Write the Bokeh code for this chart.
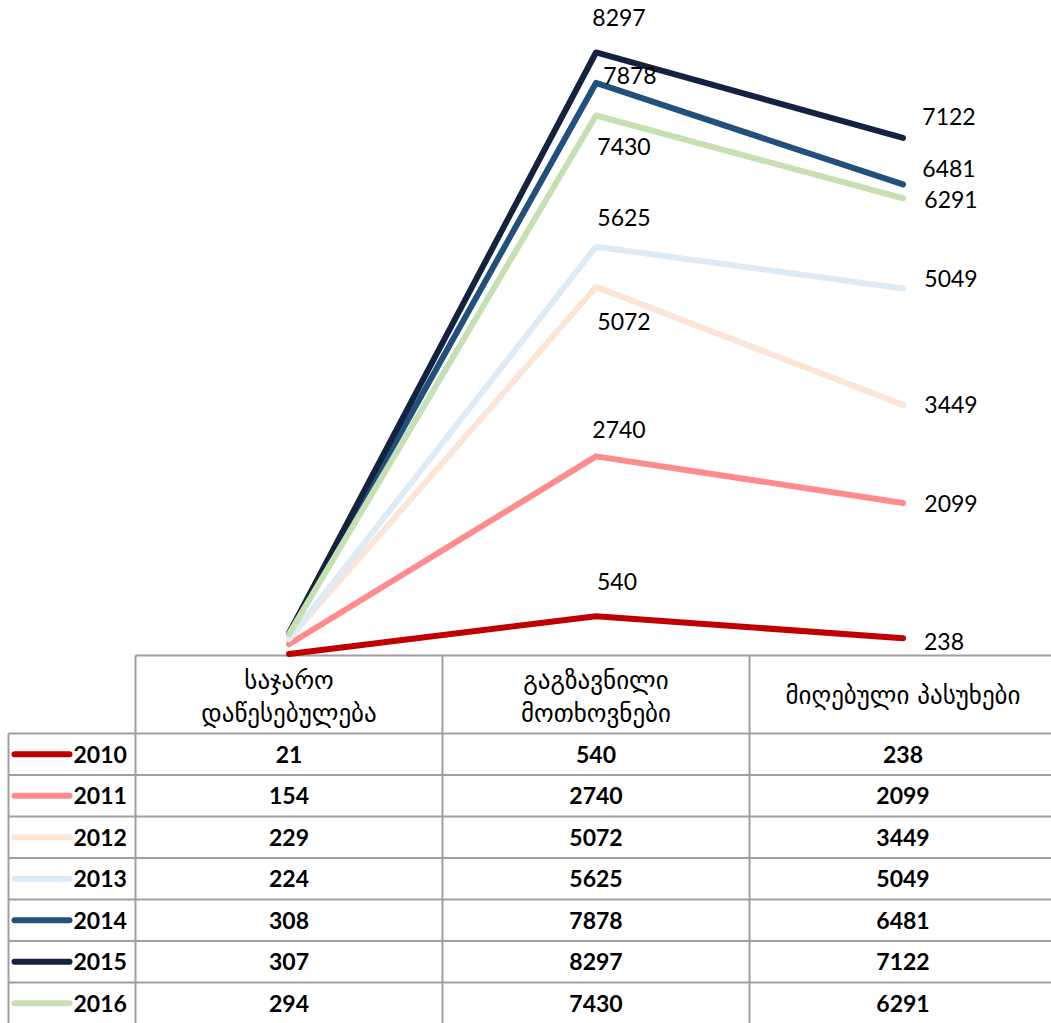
from bokeh.plotting import figure
from bokeh.models import Range1d
from bokeh.core.properties import value
from bokeh.embed import file_html
from bokeh.resources import INLINE

# ---------------- data ----------------
categories = ["საჯარო დაწესებულება", "გაგზავნილი მოთხოვნები", "მიღებული პასუხები"]
header_lines = [["საჯარო", "დაწესებულება"], ["გაგზავნილი", "მოთხოვნები"], ["მიღებული პასუხები"]]
years = ["2010", "2011", "2012", "2013", "2014", "2015", "2016"]
v2010 = [21, 540, 238]
v2011 = [154, 2740, 2099]
v2012 = [229, 5072, 3449]
v2013 = [224, 5625, 5049]
v2014 = [308, 7878, 6481]
v2015 = [307, 8297, 7122]
v2016 = [294, 7430, 6291]
series = [v2010, v2011, v2012, v2013, v2014, v2015, v2016]

# ---------------- styles ----------------
colors = ["#C00000", "#FF8C8C", "#FCE4D6", "#DDEBF7", "#22507C", "#13223F", "#C6E0B4"]
# label offsets (pixels) for the 2nd and 3rd category points
mid_off = [(21, -35), (23, -27), (28, 35), (28, -29), (34, -7), (23, -35), (28, 31)]
end_off = [(41, 3), (48, 1), (48, 0), (48, -10), (46, -16), (46, -21), (48, 1)]

W, H = 1051, 1023
LEFT = 8            # left border of the legend column
COL0 = 135          # left edge of first table column (canvas px)
COLW = 307          # column width
Y0 = 655            # canvas y of value 0 / top of table
PXU = 0.07268       # px per unit
HEAD_H = 78
ROW_H = 41.5
GRID = "#A0A0A0"
LBL_FONT = value("Lato")
GEO_FONT = value("DejaVu Sans")

p = figure(width=W, height=H, output_backend="svg", toolbar_location=None,
           x_range=Range1d(-COL0 / COLW, (W - COL0) / COLW),
           y_range=Range1d(-(H - Y0) / PXU, Y0 / PXU),
           x_axis_type=None, y_axis_type=None, min_border=0,
           outline_line_color=None, background_fill_color="white",
           border_fill_color="white")
p.extra_x_ranges = {"px": Range1d(0, W)}
p.extra_y_ranges = {"py": Range1d(H, 0)}
PX = dict(x_range_name="px", y_range_name="py")

# ---------------- table grid ----------------
row_tops = [Y0 + HEAD_H + k * ROW_H for k in range(len(years) + 1)]
hx0 = [COL0] + [LEFT] * len(row_tops)
hx1 = [W] * (len(row_tops) + 1)
hy = [Y0] + row_tops
p.segment(x0=hx0, x1=hx1, y0=hy, y1=hy, line_color=GRID, line_width=2, **PX)
vx = [LEFT] + [COL0 + k * COLW for k in range(len(categories))]
vy0 = [Y0 + HEAD_H] + [Y0] * len(categories)
p.segment(x0=vx, x1=vx, y0=vy0, y1=[H] * len(vx), line_color=GRID, line_width=2, **PX)

# ---------------- lines ----------------
xs = [i + 0.5 for i in range(len(categories))]
for vals, col in zip(series, colors):
    p.line(xs, vals, line_color=col, line_width=6, line_cap="round", line_join="round")

# ---------------- data labels ----------------
for vals, col, mo, eo in zip(series, colors, mid_off, end_off):
    for idx, off in ((1, mo), (2, eo)):
        p.text(x=[xs[idx]], y=[vals[idx]], text=[str(vals[idx])],
               x_offset=off[0], y_offset=off[1], text_align="center",
               text_baseline="middle", text_font=LBL_FONT, text_font_size="23px",
               text_color="black")

# ---------------- header ----------------
hx, hyy, ht = [], [], []
for i, lines in enumerate(header_lines):
    cx = COL0 + (i + 0.5) * COLW
    if len(lines) == 2:
        hx += [cx, cx]; hyy += [Y0 + 25, Y0 + 58]; ht += lines
    else:
        hx.append(cx); hyy.append(Y0 + 40); ht += lines
p.text(x=hx, y=hyy, text=ht, text_align="center", text_baseline="middle",
       text_font=GEO_FONT, text_font_size="25px", text_color="black", **PX)

# ---------------- rows: legend keys, years, values ----------------
centers = [Y0 + HEAD_H + (k + 0.5) * ROW_H for k in range(len(years))]
p.segment(x0=[14] * len(years), x1=[69] * len(years), y0=centers, y1=centers,
          line_color=colors, line_width=6, line_cap="round", **PX)
p.text(x=[73] * len(years), y=centers, text=years, text_align="left",
       text_baseline="middle", text_font=LBL_FONT, text_font_size="23px",
       text_font_style="bold", text_color="black", **PX)
cx_list, cy_list, ct_list = [], [], []
for k, vals in enumerate(series):
    for i, v in enumerate(vals):
        cx_list.append(COL0 + (i + 0.5) * COLW)
        cy_list.append(centers[k])
        ct_list.append(str(v))
p.text(x=cx_list, y=cy_list, text=ct_list, text_align="center",
       text_baseline="middle", text_font=LBL_FONT, text_font_size="23px",
       text_font_style="bold", text_color="black", **PX)

open("out.html", "w").write(file_html(p, INLINE))
